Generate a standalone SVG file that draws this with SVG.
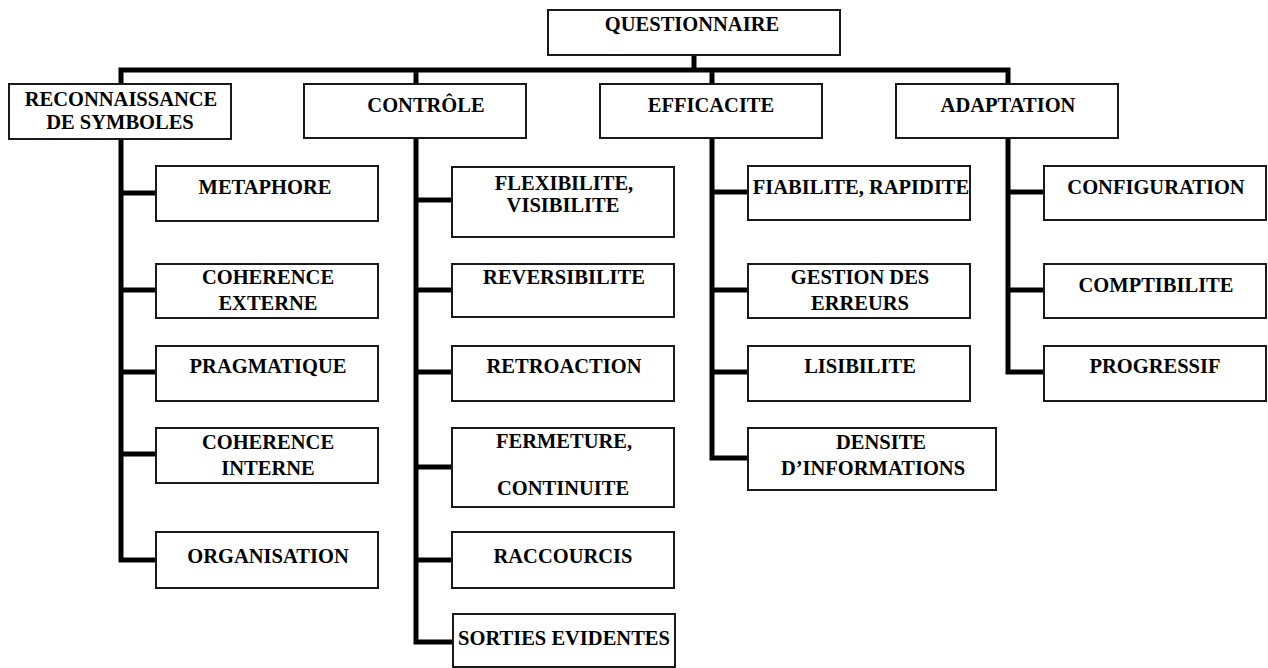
<svg xmlns="http://www.w3.org/2000/svg" width="1268" height="668" viewBox="0 0 1268 668">
  <style>
    .box { fill: #fff; stroke: #1a1a1a; stroke-width: 2; }
    .lbl { font-family: "Liberation Serif", "Times New Roman", serif; font-weight: bold; font-size: 20.5px; fill: #000; text-anchor: middle; }
    .wire { fill: none; stroke: #000; stroke-width: 5; stroke-linejoin: miter; stroke-linecap: butt; }
  </style>
  <rect width="1268" height="668" fill="#fff"/>

  <!-- connectors -->
  <g id="connectors">
    <path class="wire" d="M694,55 V70"/>
    <path class="wire" d="M121,84 V70 H1008 V84"/>
    <path class="wire" d="M416,70 V84"/>
    <path class="wire" d="M712,70 V84"/>
    <!-- reconnaissance branch -->
    <path class="wire" d="M121,138 V560 H156"/>
    <path class="wire" d="M121,193 H156 M121,290 H156 M121,372 H156 M121,454 H156"/>
    <!-- controle branch -->
    <path class="wire" d="M416,138 V642 H452"/>
    <path class="wire" d="M416,200 H452 M416,290 H452 M416,372 H452 M416,467 H452 M416,560 H452"/>
    <!-- efficacite branch -->
    <path class="wire" d="M712,138 V458 H748"/>
    <path class="wire" d="M712,192 H748 M712,290 H748 M712,372 H748"/>
    <!-- adaptation branch -->
    <path class="wire" d="M1008,138 V372 H1044"/>
    <path class="wire" d="M1008,192 H1044 M1008,290 H1044"/>
  </g>

  <!-- root -->
  <g id="questionnaire">
    <rect class="box" x="548" y="10" width="292" height="45"/>
    <text class="lbl" x="692" y="31">QUESTIONNAIRE</text>
  </g>

  <!-- first level -->
  <g id="reconnaissance">
    <rect class="box" x="9" y="84" width="222" height="55"/>
    <text class="lbl" x="121" y="106">RECONNAISSANCE</text>
    <text class="lbl" x="120" y="129">DE SYMBOLES</text>
  </g>
  <g id="controle">
    <rect class="box" x="304" y="84" width="222" height="54"/>
    <text class="lbl" x="426" y="112">CONTRÔLE</text>
  </g>
  <g id="efficacite">
    <rect class="box" x="600" y="84" width="222" height="54"/>
    <text class="lbl" x="711" y="112">EFFICACITE</text>
  </g>
  <g id="adaptation">
    <rect class="box" x="896" y="84" width="222" height="54"/>
    <text class="lbl" x="1008" y="112">ADAPTATION</text>
  </g>

  <!-- reconnaissance children -->
  <g id="metaphore">
    <rect class="box" x="156" y="166" width="222" height="55"/>
    <text class="lbl" x="265" y="194">METAPHORE</text>
  </g>
  <g id="coherence-externe">
    <rect class="box" x="156" y="264" width="222" height="54"/>
    <text class="lbl" x="268" y="284">COHERENCE</text>
    <text class="lbl" x="268" y="310">EXTERNE</text>
  </g>
  <g id="pragmatique">
    <rect class="box" x="156" y="346" width="222" height="55"/>
    <text class="lbl" x="268" y="373">PRAGMATIQUE</text>
  </g>
  <g id="coherence-interne">
    <rect class="box" x="156" y="428" width="222" height="55"/>
    <text class="lbl" x="268" y="449">COHERENCE</text>
    <text class="lbl" x="268" y="475">INTERNE</text>
  </g>
  <g id="organisation">
    <rect class="box" x="156" y="532" width="222" height="56"/>
    <text class="lbl" x="268" y="563">ORGANISATION</text>
  </g>

  <!-- controle children -->
  <g id="flexibilite">
    <rect class="box" x="452" y="167" width="222" height="70"/>
    <text class="lbl" x="564" y="190">FLEXIBILITE,</text>
    <text class="lbl" x="563" y="212">VISIBILITE</text>
  </g>
  <g id="reversibilite">
    <rect class="box" x="452" y="264" width="222" height="53"/>
    <text class="lbl" x="564" y="284">REVERSIBILITE</text>
  </g>
  <g id="retroaction">
    <rect class="box" x="452" y="346" width="222" height="55"/>
    <text class="lbl" x="564" y="373">RETROACTION</text>
  </g>
  <g id="fermeture">
    <rect class="box" x="452" y="428" width="222" height="79"/>
    <text class="lbl" x="564" y="448">FERMETURE,</text>
    <text class="lbl" x="563" y="495">CONTINUITE</text>
  </g>
  <g id="raccourcis">
    <rect class="box" x="452" y="532" width="222" height="56"/>
    <text class="lbl" x="563" y="563">RACCOURCIS</text>
  </g>
  <g id="sorties">
    <rect class="box" x="453" y="614" width="222" height="53"/>
    <text class="lbl" x="564" y="645">SORTIES EVIDENTES</text>
  </g>

  <!-- efficacite children -->
  <g id="fiabilite">
    <rect class="box" x="748" y="166" width="222" height="54"/>
    <text class="lbl" x="861" y="194">FIABILITE, RAPIDITE</text>
  </g>
  <g id="gestion-erreurs">
    <rect class="box" x="748" y="264" width="222" height="54"/>
    <text class="lbl" x="860" y="284">GESTION DES</text>
    <text class="lbl" x="860" y="310">ERREURS</text>
  </g>
  <g id="lisibilite">
    <rect class="box" x="748" y="346" width="222" height="55"/>
    <text class="lbl" x="860" y="373">LISIBILITE</text>
  </g>
  <g id="densite">
    <rect class="box" x="748" y="428" width="248" height="62"/>
    <text class="lbl" x="881" y="449">DENSITE</text>
    <text class="lbl" x="873" y="475">D’INFORMATIONS</text>
  </g>

  <!-- adaptation children -->
  <g id="configuration">
    <rect class="box" x="1044" y="166" width="222" height="54"/>
    <text class="lbl" x="1156" y="194">CONFIGURATION</text>
  </g>
  <g id="comptibilite">
    <rect class="box" x="1044" y="264" width="222" height="54"/>
    <text class="lbl" x="1156" y="292">COMPTIBILITE</text>
  </g>
  <g id="progressif">
    <rect class="box" x="1044" y="346" width="222" height="55"/>
    <text class="lbl" x="1155" y="373">PROGRESSIF</text>
  </g>
</svg>
